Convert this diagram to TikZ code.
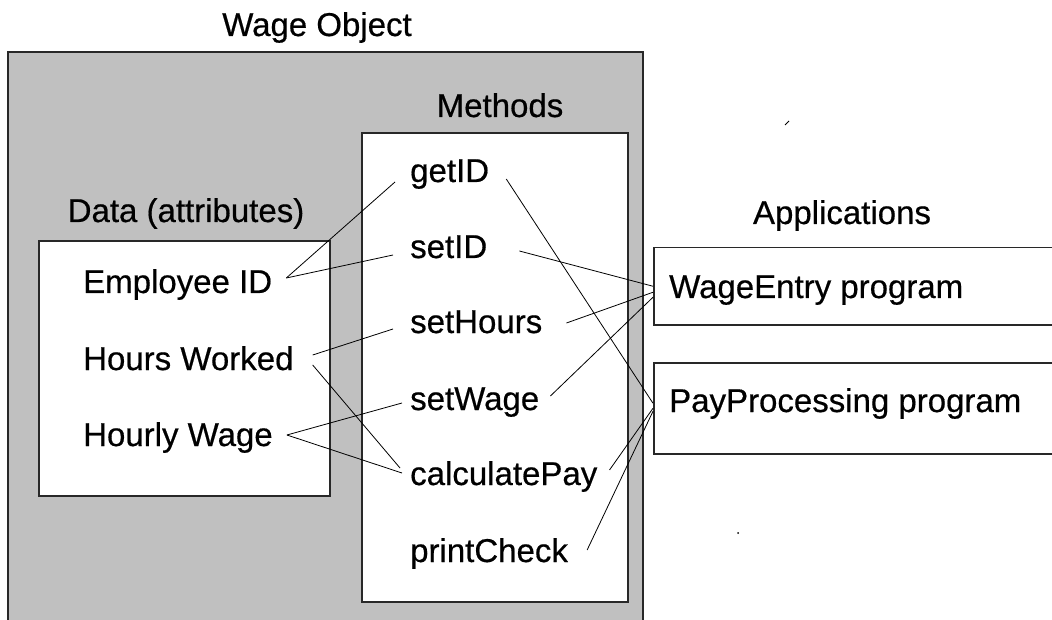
\documentclass[tikz,border=0pt]{standalone}
\usepackage{fontspec}
\setmainfont[FakeBold=0.5]{Liberation Sans}
\definecolor{objgray}{RGB}{192,192,192}
\definecolor{edge}{RGB}{40,40,40}
\begin{document}
\begin{tikzpicture}[x=1pt,y=-1pt,
  lbl/.style={inner sep=0pt,font=\fontsize{33}{40}\selectfont,anchor=base west},
  ttl/.style={inner sep=0pt,font=\fontsize{33}{40}\selectfont,anchor=base},
  panel/.style={draw=edge,line width=1.5pt,fill=white},
  link/.style={draw=black,line width=0.8pt}]
\clip (0,0) rectangle (1052,620);
\fill[white] (0,0) rectangle (1052,620);
% outer object
\draw[draw=edge,line width=1.5pt,fill=objgray] (8,52) rectangle (643,640);
\node[ttl] (wo) at (317,36) {Wage Object};
% data box
\node[ttl] (dt) at (186,222) {Data (attributes)};
\draw[panel] (39,241) rectangle (330,496);
% methods box
\node[ttl] (mt) at (500,117) {Methods};
\draw[panel] (362,133) rectangle (628,602);
% applications
\node[ttl] (ap) at (842,224) {Applications};
\node[panel,anchor=north west,minimum width=420pt,minimum height=77pt,inner sep=0pt] (web) at (653,247) {};
\node[panel,anchor=north west,minimum width=420pt,minimum height=91pt,inner sep=0pt] (ppb) at (653,362) {};
\node[lbl] (we) at (669,298) {WageEntry program};
\node[lbl] (pp) at (669,412) {PayProcessing program};
% data items
\node[lbl] (emp) at (83,293) {Employee ID};
\node[lbl] (hrs) at (83,370) {Hours Worked};
\node[lbl] (hw) at (83,446) {Hourly Wage};
% methods
\node[lbl] (getid) at (410,182) {getID};
\node[lbl] (setid) at (410,258) {setID};
\node[lbl] (seth) at (410,333) {setHours};
\node[lbl] (setw) at (410,410) {setWage};
\node[lbl] (calc) at (410,485) {calculatePay};
\node[lbl] (prt) at (410,562) {printCheck};
% connectors
\draw[link] ([xshift=14pt,yshift=15pt]emp.base east) -- ([xshift=-15pt,yshift=0pt]getid.base west);
\draw[link] ([xshift=14pt,yshift=15pt]emp.base east) -- ([xshift=-17pt,yshift=3pt]setid.base west);
\draw[link] ([xshift=32pt,yshift=7pt]setid.base east) -- ([yshift=0pt]web.west);
\draw[link] ([xshift=17pt,yshift=3pt]getid.base east) -- ([yshift=5pt]ppb.west);
\draw[link] ([xshift=24pt,yshift=10pt]seth.base east) -- ([yshift=-6pt]web.west);
\draw[link] ([xshift=11pt,yshift=14pt]setw.base east) -- ([yshift=-11pt]web.west);
\draw[link] ([xshift=19pt,yshift=15pt]hrs.base east) -- ([xshift=-17pt,yshift=4pt]seth.base west);
\draw[link] ([xshift=19pt,yshift=5pt]hrs.base east) -- ([xshift=-10pt,yshift=17pt]calc.base west);
\draw[link] ([xshift=14pt,yshift=11pt]hw.base east) -- ([xshift=-8pt,yshift=7pt]setw.base west);
\draw[link] ([xshift=14pt,yshift=11pt]hw.base east) -- ([xshift=-8pt,yshift=12pt]calc.base west);
\draw[link] ([xshift=12pt,yshift=15pt]calc.base east) -- ([yshift=0pt]ppb.west);
\draw[link] ([xshift=19pt,yshift=12pt]prt.base east) -- ([yshift=-3pt]ppb.west);
% stray marks
\draw[line width=1pt] (785,125) -- (789,121);
\fill (738,533) circle (1pt);
\end{tikzpicture}
\end{document}
